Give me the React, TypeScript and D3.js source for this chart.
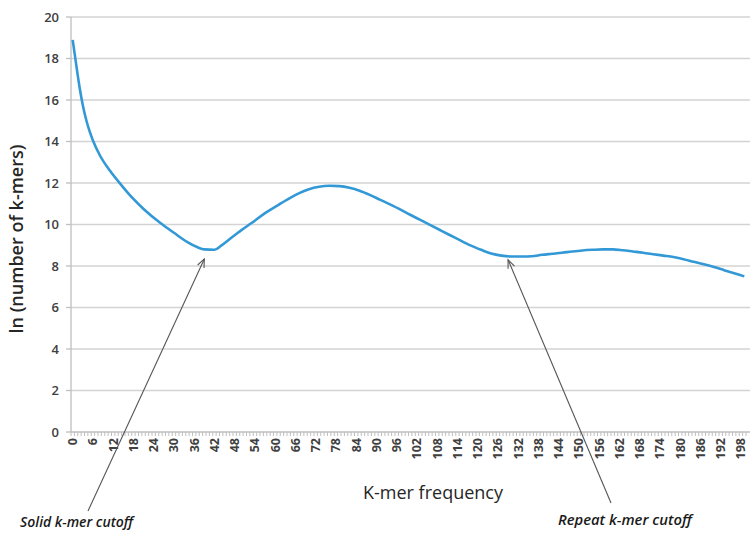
import React from "react";
import * as d3 from "d3";

// ---- data ----
const categories: number[] = Array.from({ length: 200 }, (_, i) => i);
const tickLabels: number[] = [
  0, 6, 12, 18, 24, 30, 36, 42, 48, 54, 60, 66, 72, 78, 84, 90, 96, 102, 108, 114,
  120, 126, 132, 138, 144, 150, 156, 162, 168, 174, 180, 186, 192, 198,
];
const yTicks: number[] = [0, 2, 4, 6, 8, 10, 12, 14, 16, 18, 20];

const freq: number[] = [
  0, 1, 2, 3, 4, 5, 6, 8, 11, 14, 17, 21, 26, 30, 34, 37, 39, 42, 44, 47, 50, 53, 57,
  61, 65, 67, 70, 73, 76, 79, 82, 85, 88, 91, 94, 97, 100, 103, 106, 109, 112, 115,
  118, 121, 124, 127, 130, 133, 136, 139, 142, 145, 148, 151, 154, 157, 160, 163,
  166, 169, 172, 175, 178, 181, 184, 187, 190, 193, 196, 199,
];
const lnCount: number[] = [
  18.9, 17.75, 16.65, 15.75, 15.05, 14.5, 14.05, 13.35, 12.6, 11.98, 11.4, 10.75,
  10.07, 9.6, 9.15, 8.9, 8.8, 8.78, 8.98, 9.36, 9.73, 10.07, 10.55, 10.95, 11.33,
  11.5, 11.7, 11.82, 11.87, 11.85, 11.77, 11.63, 11.43, 11.2, 10.97, 10.73, 10.47,
  10.22, 9.97, 9.72, 9.47, 9.22, 8.98, 8.78, 8.6, 8.5, 8.46, 8.46, 8.47, 8.54, 8.59,
  8.64, 8.7, 8.75, 8.78, 8.8, 8.8, 8.76, 8.7, 8.64, 8.57, 8.5, 8.43, 8.33, 8.2, 8.08,
  7.95, 7.8, 7.65, 7.5,
];

const annotations = [
  { label: "Solid k-mer cutoff", freq: 39, value: 8.34, tx: 20, ty: 527, lx: 88, ly: 511, size: 14 },
  { label: "Repeat k-mer cutoff", freq: 129, value: 8.3, tx: 558, ty: 525, lx: 611, ly: 503, size: 14.8 },
];

const W = 750;
const H = 533;
const left = 71;
const right = 746;
const top = 17;
const bottom = 432;

export default function App() {
  const x = d3.scaleBand<number>().domain(categories).range([left, right]).padding(0);
  const bw = x.bandwidth();
  const cx = (i: number) => (x(Math.floor(i)) as number) + bw / 2 + (i - Math.floor(i)) * bw;
  const y = d3.scaleLinear().domain([0, 20]).range([bottom, top]);

  const line = d3
    .line<number>()
    .x((_, k) => cx(freq[k]))
    .y((d) => y(d))
    .curve(d3.curveMonotoneX);

  const axisColor = "#bfbfbf";
  const gridColor = "#d3d3d3";
  const font = "'Open Sans', 'DejaVu Sans', sans-serif";

  return (
    <svg
      width={W}
      height={H}
      style={{ position: "absolute", left: 0, top: 0, background: "#fff" }}
      fontFamily={font}
    >
      <rect x={0} y={0} width={W} height={H} fill="#fff" />
      {/* gridlines + y ticks */}
      {yTicks.map((t) => (
        <g key={t}>
          {t > 0 && (
            <line x1={left} x2={W} y1={y(t)} y2={y(t)} stroke={gridColor} strokeWidth={1.3} />
          )}
          <line x1={left - 5} x2={left} y1={y(t)} y2={y(t)} stroke={axisColor} strokeWidth={1.3} />
          <text
            x={59}
            y={y(t)}
            dy="0.35em"
            textAnchor="end"
            fontSize={13}
            fontWeight={600}
            fill="#404040"
          >
            {t}
          </text>
        </g>
      ))}
      {/* axes */}
      <line x1={left} x2={left} y1={top} y2={bottom} stroke={axisColor} strokeWidth={1.3} />
      <line x1={left} x2={W} y1={bottom} y2={bottom} stroke={axisColor} strokeWidth={1.3} />
      {categories.map((c) => (
        <line
          key={c}
          x1={(x(c) as number) + bw}
          x2={(x(c) as number) + bw}
          y1={bottom}
          y2={bottom + 4}
          stroke={axisColor}
          strokeWidth={1}
        />
      ))}
      <line x1={left} x2={left} y1={bottom} y2={bottom + 4} stroke={axisColor} strokeWidth={1} />
      {tickLabels.map((t) => (
        <text
          key={t}
          transform={`translate(${cx(t)},${bottom + 6}) rotate(-90)`}
          dy="0.35em"
          textAnchor="end"
          fontSize={12.5}
          fontWeight={700}
          fill="#404040"
        >
          {t}
        </text>
      ))}
      {/* data line */}
      <path d={line(lnCount) || ""} fill="none" stroke="#3399d6" strokeWidth={2.6} strokeLinejoin="round" />
      {/* axis titles */}
      <text
        transform={`translate(23,239) rotate(-90)`}
        textAnchor="middle"
        fontSize={18}
        fontWeight={600}
        fill="#262626"
      >
        ln (number of k-mers)
      </text>
      <text x={433} y={499} textAnchor="middle" fontSize={18} fill="#262626">
        K-mer frequency
      </text>
      {/* annotations */}
      {annotations.map((a) => {
        const tx = cx(a.freq);
        const ty = y(a.value);
        const ang = Math.atan2(ty - a.ly, tx - a.lx);
        const hl = 9;
        const spread = 0.4;
        const p1 = [tx - hl * Math.cos(ang - spread), ty - hl * Math.sin(ang - spread)];
        const p2 = [tx - hl * Math.cos(ang + spread), ty - hl * Math.sin(ang + spread)];
        return (
          <g key={a.label}>
            <line x1={a.lx} y1={a.ly} x2={tx} y2={ty} stroke="#555" strokeWidth={1.1} />
            <polyline
              points={`${p1[0]},${p1[1]} ${tx},${ty} ${p2[0]},${p2[1]}`}
              fill="none"
              stroke="#555"
              strokeWidth={1.1}
            />
            <text
              x={a.tx}
              y={a.ty}
              fontSize={a.size}
              fontStyle="italic"
              fontWeight={600}
              fill="#1a1a1a"
            >
              {a.label}
            </text>
          </g>
        );
      })}
    </svg>
  );
}
